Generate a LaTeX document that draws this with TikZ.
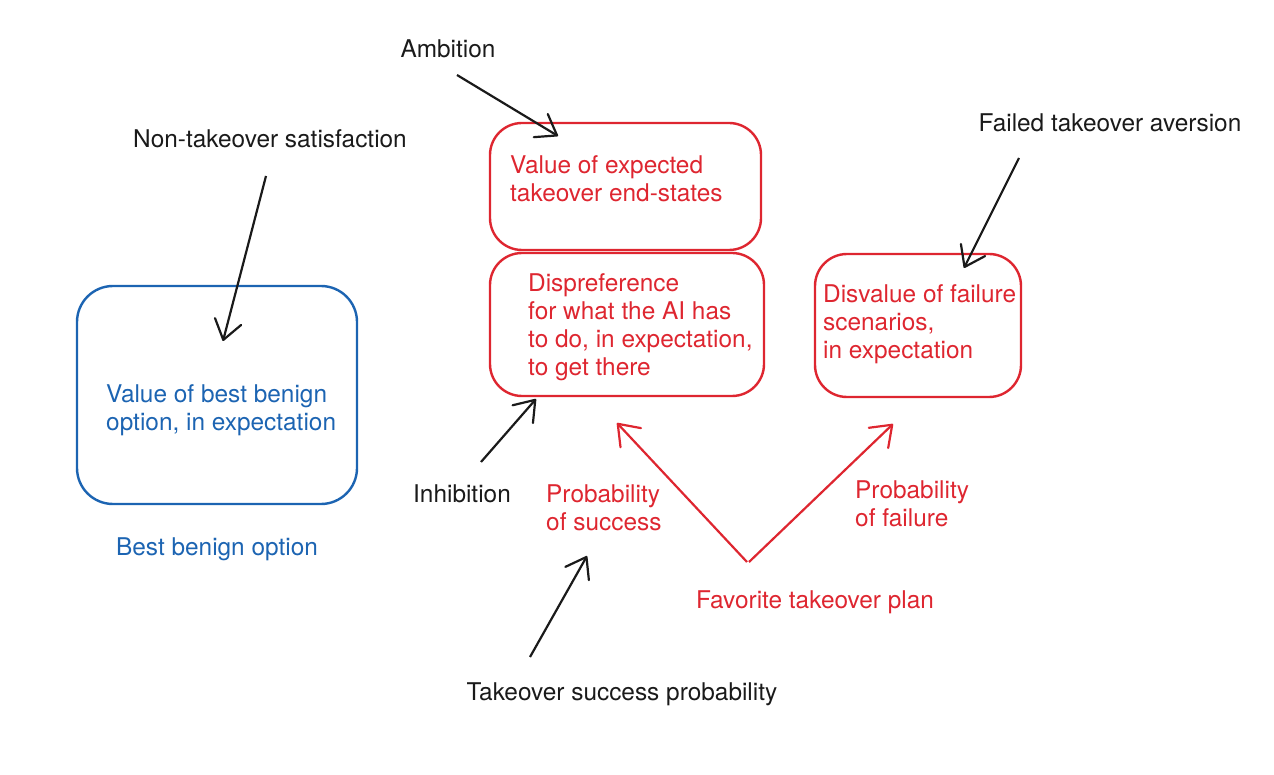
\documentclass[tikz,border=0pt]{standalone}
\usepackage{fontspec}
\setmainfont{TeX Gyre Heros}
\usetikzlibrary{arrows.meta}
\definecolor{myred}{RGB}{222,38,48}
\definecolor{myblue}{RGB}{28,100,178}
\definecolor{myblack}{RGB}{26,26,26}
\tikzset{
  redbox/.style={draw=myred, line width=2.4pt, rounded corners=32pt},
  bluebox/.style={draw=myblue, line width=2.4pt, rounded corners=36pt},
  lbl/.style={inner sep=0pt, font=\fontsize{24.4}{28}\selectfont},
  blk/.style={lbl, anchor=north west, align=left},
  blackarrow/.style={draw=myblack, line width=2.2pt, -{Straight Barb[length=19pt,width=27pt,round]}},
  redarrow/.style={draw=myred, line width=2.2pt, -{Straight Barb[length=19pt,width=28pt,round]}},
}
\begin{document}
\begin{tikzpicture}[x=1pt,y=-1pt]
\useasboundingbox (0,0) rectangle (1274,775);

% boxes
\draw[redbox] (490,123) rectangle (761,250);
\draw[redbox] (490,253) rectangle (764,396);
\draw[redbox] (815,254) rectangle (1021,397);
\draw[bluebox] (77,286) rectangle (357,504);

% box texts
\node[blk, text=myred] (t1) at (510,155.5) {Value of expected\\takeover end-states};
\node[blk, text=myred] (t2) at (528,273.5) {Dispreference\\for what the AI has\\to do, in expectation,\\to get there};
\node[blk, text=myred] (t4) at (823,284.5) {Disvalue of failure\\scenarios,\\in expectation};
\node[blk, text=myblue] (t3) at (106,384.5) {Value of best benign\\option, in expectation};

% free labels
\node[lbl, anchor=base, text=myblack] (amb) at (448,58) {Ambition};
\node[lbl, anchor=base, text=myblack] (nts) at (270,148) {Non-takeover satisfaction};
\node[lbl, anchor=base, text=myblack] (fta) at (1110,132) {Failed takeover aversion};
\node[lbl, anchor=base, text=myblack] (inh) at (462,502) {Inhibition};
\node[lbl, anchor=base, text=myblack] (tsp) at (622,700) {Takeover success probability};
\node[lbl, anchor=base, text=myblue] (bbo) at (217,555) {Best benign option};
\node[lbl, anchor=base, text=myred] (ftp) at (815,608) {Favorite takeover plan};
\node[blk, text=myred] (pos) at (546,484.5) {Probability\\of success};
\node[blk, text=myred] (pof) at (855,480.5) {Probability\\of failure};

% arrow end points
\coordinate (a1s) at (457,75);   \coordinate (a1e) at (558,136);
\coordinate (a2s) at (266,176);  \coordinate (a2e) at (223,341);
\coordinate (a3s) at (1019,158); \coordinate (a3e) at (964,268);
\coordinate (a4s) at (481,462);  \coordinate (a4e) at (536,399);
\coordinate (a5s) at (530,657);  \coordinate (a5e) at (587,556);
\coordinate (v1) at (747,562);   \coordinate (r1e) at (617,423);
\coordinate (v2) at (749,562);   \coordinate (r2e) at (893,424);

\draw[blackarrow] (a1s) -- (a1e);
\draw[blackarrow] (a2s) -- (a2e);
\draw[blackarrow] (a3s) -- (a3e);
\draw[blackarrow] (a4s) -- (a4e);
\draw[blackarrow] (a5s) -- (a5e);
\draw[redarrow] (v1) -- (r1e);
\draw[redarrow] (v2) -- (r2e);
\end{tikzpicture}
\end{document}
